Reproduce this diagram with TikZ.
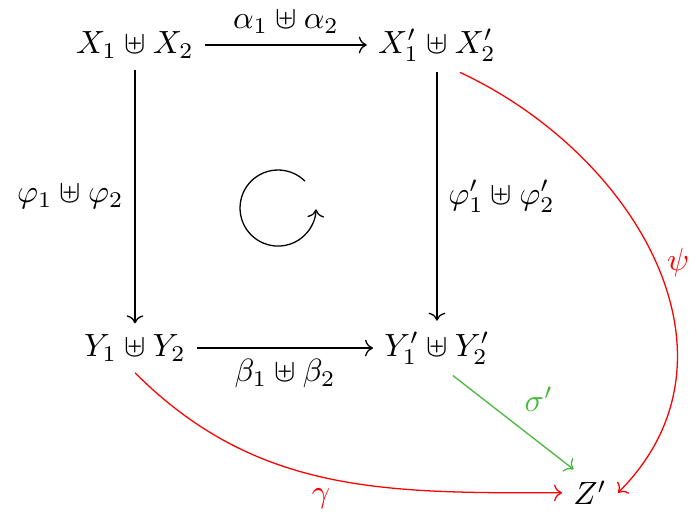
\documentclass[tikz,border=0pt]{standalone}
\usepackage{amsmath,amssymb}
\usepackage{tikz}
\usetikzlibrary{arrows.meta,positioning,calc}
\definecolor{mapred}{RGB}{255,0,0}
\definecolor{mapgreen}{RGB}{70,185,60}
\tikzset{
  obj/.style={inner sep=3.33pt},
  mor/.style={->,draw=black,line width=0.4pt},
  redmor/.style={mor,draw=mapred},
  greenmor/.style={mor,draw=mapgreen},
  lbl/.style={font=\normalsize},
}

\begin{document}
\begin{tikzpicture}[x=1cm,y=1cm]
  \useasboundingbox (0,0) rectangle (7.549,5.722);
  % the square
  \node[obj] (X)  at (1.477,5.23)  {$X_1 \uplus X_2$};
  \node[obj] (Xp) at (4.781,5.23)  {$X'_1 \uplus X'_2$};
  \node[obj] (Y)  at (1.477,1.914) {$Y_1 \uplus Y_2$};
  \node[obj] (Yp) at (4.781,1.914) {$Y'_1 \uplus Y'_2$};
  \node[obj] (Zp) at (6.455,0.33)  {$Z'$};
  \draw[mor] (X) -- node[above,lbl]{$\alpha_1 \uplus \alpha_2$} (Xp);
  \draw[mor] (Y) -- node[below,lbl]{$\beta_1 \uplus \beta_2$} (Yp);
  \draw[mor] (X) -- node[left,lbl]{$\varphi_1 \uplus \varphi_2$} (Y);
  \draw[mor] (Xp) -- node[right,lbl]{$\varphi'_1 \uplus \varphi'_2$} (Yp);
  % commutes
  \coordinate (rot) at (3.042,3.446);
  \draw[->] ($(rot)+(45:0.416)$) arc[start angle=45,end angle=358,radius=0.416];
  % maps into Z'
  \draw[redmor] (Xp.-50) to[out=-25,in=45,looseness=1.1]
    node[pos=.5,right,text=mapred]{$\psi'$} (Zp.east);
  \draw[redmor] (Y.south) to[out=-45,in=180]
    node[pos=.48,below,text=mapred]{$\gamma$} (Zp.west);
  \draw[greenmor] (Yp.-60) -- node[pos=.5,above right,text=mapgreen]{$\sigma'$} (Zp.125);
\end{tikzpicture}
\end{document}
